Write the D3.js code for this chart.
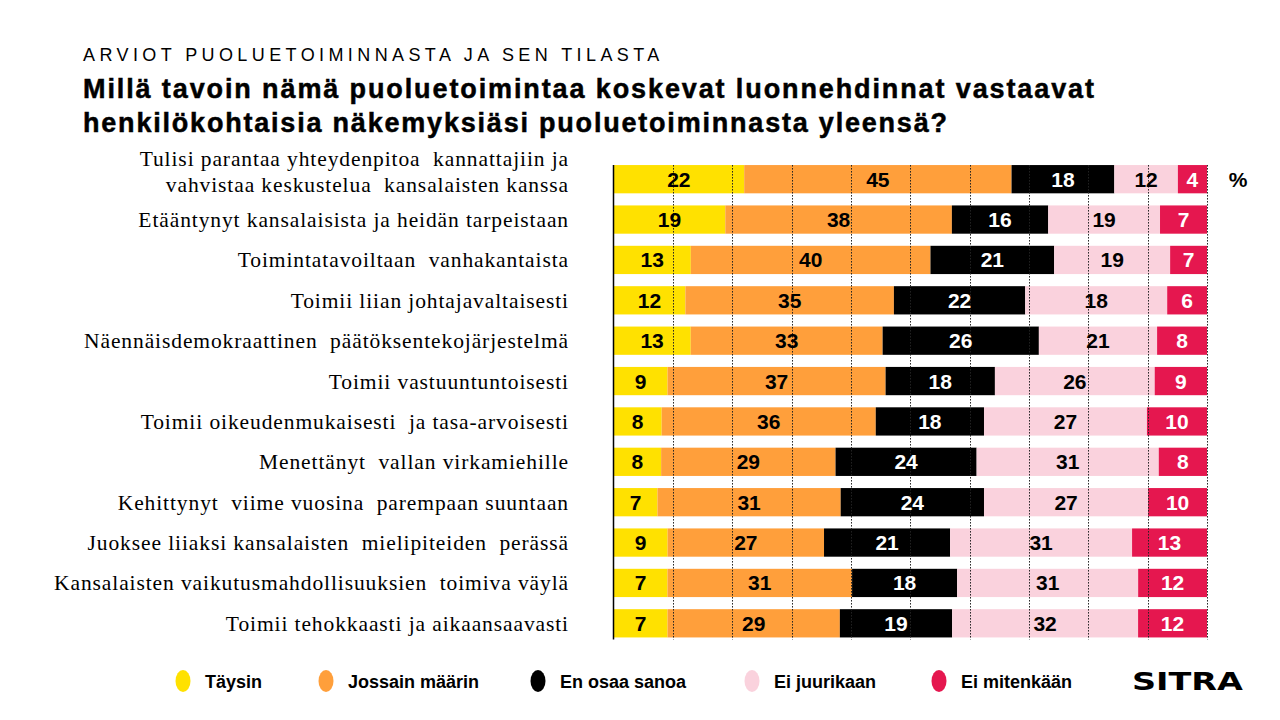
<!DOCTYPE html>
<html>
<head>
<meta charset="utf-8">
<script src="https://cdn.jsdelivr.net/npm/d3@7"></script>
<style>
  html, body { margin: 0; padding: 0; background: #ffffff; }
  svg { display: block; }
  .cat { white-space: pre; }
</style>
</head>
<body>
<svg id="chart" width="1280" height="720"></svg>
<script>
// ---------- DATA ----------
const categories = [
  "Tulisi parantaa yhteydenpitoa  kannattajiin ja\nvahvistaa keskustelua  kansalaisten kanssa",
  "Etääntynyt kansalaisista ja heidän tarpeistaan",
  "Toimintatavoiltaan  vanhakantaista",
  "Toimii liian johtajavaltaisesti",
  "Näennäisdemokraattinen  päätöksentekojärjestelmä",
  "Toimii vastuuntuntoisesti",
  "Toimii oikeudenmukaisesti  ja tasa-arvoisesti",
  "Menettänyt  vallan virkamiehille",
  "Kehittynyt  viime vuosina  parempaan suuntaan",
  "Juoksee liiaksi kansalaisten  mielipiteiden  perässä",
  "Kansalaisten vaikutusmahdollisuuksien  toimiva väylä",
  "Toimii tehokkaasti ja aikaansaavasti"
];
const seriesNames = ["Täysin", "Jossain määrin", "En osaa sanoa", "Ei juurikaan", "Ei mitenkään"];

// segment lengths as drawn (percent)
const taysin      = [22.0, 18.8, 13.0, 12.1, 13.0,  9.1,  8.1,  8.0,  7.4,  9.1,  9.1,  9.1];
const jossain     = [45.0, 38.1, 40.3, 35.1, 32.3, 36.7, 36.0, 29.3, 30.8, 26.3, 31.1, 29.0];
const enOsaa      = [17.3, 16.2, 20.8, 22.1, 26.3, 18.4, 18.2, 23.7, 24.1, 21.2, 17.7, 18.9];
const eiJuurikaan = [10.7, 18.8, 19.5, 23.9, 19.9, 26.9, 27.4, 30.6, 27.6, 30.6, 30.5, 31.3];
const eiMitenkaan = [ 4.9,  7.9,  6.2,  6.7,  8.4,  8.8, 10.1,  8.1,  9.9, 12.6, 11.6, 11.6];

// printed value labels
const lblTaysin      = [22, 19, 13, 12, 13,  9,  8,  8,  7,  9,  7,  7];
const lblJossain     = [45, 38, 40, 35, 33, 37, 36, 29, 31, 27, 31, 29];
const lblEnOsaa      = [18, 16, 21, 22, 26, 18, 18, 24, 24, 21, 18, 19];
const lblEiJuurikaan = [12, 19, 19, 18, 21, 26, 27, 31, 27, 31, 31, 32];
const lblEiMitenkaan = [ 4,  7,  7,  6,  8,  9, 10,  8, 10, 13, 12, 12];

const gridTicks = [0.1, 0.2, 0.3, 0.4, 0.5, 0.6, 0.7, 0.8, 0.9, 1.0];

// ---------- STYLE ----------
const colors = ["#FFE100", "#FF9F3B", "#000000", "#FAD2DD", "#E5174F"];
const textColors = ["#000000", "#000000", "#ffffff", "#000000", "#ffffff"];

const valueArrays = [taysin, jossain, enOsaa, eiJuurikaan, eiMitenkaan];
const labelArrays = [lblTaysin, lblJossain, lblEnOsaa, lblEiJuurikaan, lblEiMitenkaan];

const rows = categories.map((c, i) => {
  const r = { cat: c };
  seriesNames.forEach((s, j) => { r[s] = valueArrays[j][i]; });
  return r;
});

const svg = d3.select("#chart");

// ---------- TITLES ----------
svg.append("text")
  .attr("x", 83).attr("y", 61)
  .attr("font-family", "Liberation Sans, Arial, sans-serif")
  .attr("font-size", 18)
  .attr("letter-spacing", 4.4)
  .attr("fill", "#000")
  .text("ARVIOT PUOLUETOIMINNASTA JA SEN TILASTA");

const title = svg.append("text")
  .attr("font-family", "Liberation Sans, Arial, sans-serif")
  .attr("font-size", 27)
  .attr("font-weight", "bold")
  .attr("stroke", "#000")
  .attr("stroke-width", 0.5)
  .attr("fill", "#000");
title.append("tspan").attr("x", 83).attr("y", 98)
  .attr("textLength", 1011).attr("lengthAdjust", "spacing")
  .text("Millä tavoin nämä puoluetoimintaa koskevat luonnehdinnat vastaavat");
title.append("tspan").attr("x", 83).attr("y", 132)
  .attr("textLength", 864).attr("lengthAdjust", "spacing")
  .text("henkilökohtaisia näkemyksiäsi puoluetoiminnasta yleensä?");

// ---------- SCALES ----------
const x = d3.scaleLinear().domain([0, 1]).range([613.5, 1207]);
const y = d3.scaleBand().domain(categories).range([159, 643.5])
  .paddingInner(0.3).paddingOuter(0.15);

const stack = d3.stack().keys(seriesNames).offset(d3.stackOffsetExpand);
const stacked = stack(rows);

// ---------- BARS ----------
const gBars = svg.append("g");
stacked.forEach((layer, j) => {
  gBars.selectAll(null)
    .data(layer)
    .join("rect")
    .attr("x", d => x(d[0]))
    .attr("y", d => y(d.data.cat))
    .attr("width", d => x(d[1]) - x(d[0]))
    .attr("height", y.bandwidth())
    .attr("fill", colors[j]);
});

// ---------- GRID ----------
const gridTop = y(categories[0]);
const gridBottom = y(categories[categories.length - 1]) + y.bandwidth() + 2;
svg.append("g")
  .selectAll("line")
  .data(gridTicks)
  .join("line")
  .attr("x1", d => Math.round(x(d)) + 0.5)
  .attr("x2", d => Math.round(x(d)) + 0.5)
  .attr("y1", gridTop)
  .attr("y2", gridBottom)
  .attr("stroke", "#222")
  .attr("stroke-width", 1)
  .attr("stroke-dasharray", "1.5,1.5");

// left axis line
svg.append("line")
  .attr("x1", x(0)).attr("x2", x(0))
  .attr("y1", gridTop).attr("y2", gridBottom)
  .attr("stroke", "#000").attr("stroke-width", 1.5);

// ---------- VALUE LABELS ----------
const gVals = svg.append("g")
  .attr("font-family", "Liberation Sans, Arial, sans-serif")
  .attr("font-weight", "bold")
  .attr("font-size", 21)
  .attr("text-anchor", "middle");
stacked.forEach((layer, j) => {
  gVals.selectAll(null)
    .data(layer.map((d, i) => ({ d, i })))
    .join("text")
    .attr("x", o => (x(o.d[0]) + x(o.d[1])) / 2)
    .attr("y", o => y(o.d.data.cat) + y.bandwidth() / 2 + 7.5)
    .attr("fill", textColors[j])
    .text(o => labelArrays[j][o.i]);
});

// percent sign
svg.append("text")
  .attr("x", 1238).attr("y", y(categories[0]) + y.bandwidth() / 2 + 8)
  .attr("text-anchor", "middle")
  .attr("font-family", "Liberation Sans, Arial, sans-serif")
  .attr("font-weight", "bold")
  .attr("font-size", 21)
  .text("%");

// ---------- CATEGORY LABELS ----------
const gCats = svg.append("g")
  .attr("font-family", "Liberation Serif, Times New Roman, serif")
  .attr("font-size", 21.5)
  .attr("letter-spacing", 0.9)
  .attr("fill", "#000")
  .attr("text-anchor", "end");
categories.forEach(c => {
  const lines = c.split("\n");
  const cy = y(c) + y.bandwidth() / 2;
  const lh = 26;
  const off = lines.length > 1 ? 0 : 7.5;
  const t = gCats.append("text").attr("class", "cat");
  lines.forEach((ln, k) => {
    t.append("tspan")
      .attr("x", 569)
      .attr("y", cy + off + (k - (lines.length - 1) / 2) * lh)
      .text(ln);
  });
});

// ---------- LEGEND ----------
const legendX = [183, 326, 538, 752, 939];
const legend = svg.append("g");
seriesNames.forEach((s, j) => {
  legend.append("ellipse")
    .attr("cx", legendX[j]).attr("cy", 681)
    .attr("rx", 7.5).attr("ry", 11)
    .attr("fill", colors[j]);
  legend.append("text")
    .attr("x", legendX[j] + 22).attr("y", 688)
    .attr("font-family", "Liberation Sans, Arial, sans-serif")
    .attr("font-weight", "bold")
    .attr("font-size", 18)
    .attr("fill", "#000")
    .text(s);
});

// ---------- LOGO ----------
svg.append("text")
  .attr("x", 1132).attr("y", 690)
  .attr("font-family", "DejaVu Sans, sans-serif")
  .attr("font-weight", "bold")
  .attr("font-size", 25)
  .attr("textLength", 111)
  .attr("lengthAdjust", "spacingAndGlyphs")
  .attr("fill", "#000")
  .text("SITRA");
</script>
</body>
</html>
